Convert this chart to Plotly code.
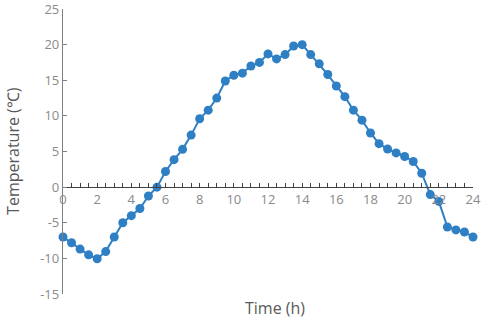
import plotly.graph_objects as go

time_h = [0, 0.5, 1, 1.5, 2, 2.5, 3, 3.5, 4, 4.5, 5, 5.5, 6, 6.5, 7, 7.5, 8, 8.5, 9, 9.5,
          10, 10.5, 11, 11.5, 12, 12.5, 13, 13.5, 14, 14.5, 15, 15.5, 16, 16.5, 17, 17.5,
          18, 18.5, 19, 19.5, 20, 20.5, 21, 21.5, 22, 22.5, 23, 23.5, 24]
temperature = [-7.0, -7.8, -8.7, -9.5, -10.05, -9.05, -7.0, -5.0, -4.0, -3.0, -1.25, 0.0,
               2.2, 3.85, 5.3, 7.3, 9.6, 10.8, 12.5, 14.9, 15.7, 16.0, 17.0, 17.5, 18.7,
               18.0, 18.6, 19.8, 20.0, 18.6, 17.3, 15.8, 14.2, 12.7, 10.8, 9.4, 7.6, 6.1,
               5.35, 4.8, 4.3, 3.6, 1.95, -1.05, -2.0, -5.6, -6.0, -6.3, -7.0]

x_ticks = list(range(0, 25, 2))
y_ticks = list(range(-15, 26, 5))

blue = "#2F7FC4"
font_family = "Open Sans"

fig = go.Figure()
fig.add_trace(go.Scatter(
    x=time_h, y=temperature, mode="lines+markers",
    line=dict(color=blue, width=2),
    marker=dict(color=blue, size=9),
    showlegend=False, hoverinfo="skip", cliponaxis=False,
))

fig.update_layout(
    width=484, height=320,
    margin=dict(l=63, r=11, t=9, b=26, autoexpand=False),
    paper_bgcolor="white", plot_bgcolor="white",
    font=dict(family=font_family, color="#8a8a8a", size=13),
    xaxis=dict(
        range=[0, 24], tickvals=x_ticks, ticktext=[str(v) for v in x_ticks],
        anchor="free", position=0.375, automargin=False, ticklabeloverflow="allow",
        showgrid=False, zeroline=False,
        showline=True, linecolor="#404040", linewidth=1.3,
        ticks="inside", ticklen=4, tickcolor="#404040", tickwidth=1,
        minor=dict(dtick=0.5, ticks="inside", ticklen=4, tickcolor="#404040", tickwidth=1),
        tickfont=dict(size=13, color="#8a8a8a"),
    ),
    yaxis=dict(
        range=[-15, 25], tickvals=y_ticks, ticktext=[str(v) for v in y_ticks],
        automargin=False, ticklabeloverflow="allow",
        showgrid=False, zeroline=False,
        showline=True, linecolor="#808080", linewidth=1.3,
        ticks="inside", ticklen=4, tickcolor="#808080",
        tickfont=dict(size=13, color="#8a8a8a"),
    ),
    annotations=[
        dict(text="Time (h)", xref="paper", yref="paper", x=0.517, y=-0.049,
             xanchor="center", yanchor="middle", showarrow=False,
             font=dict(size=16, color="#595959", family=font_family)),
        dict(text="Temperature (℃)", xref="paper", yref="paper", x=-0.122, y=0.502,
             xanchor="center", yanchor="middle", textangle=-90, showarrow=False,
             font=dict(size=16, color="#595959", family=font_family)),
    ],
)

fig.write_html("out.html", config={"displayModeBar": False},
               post_script="document.body.style.margin='0';")
